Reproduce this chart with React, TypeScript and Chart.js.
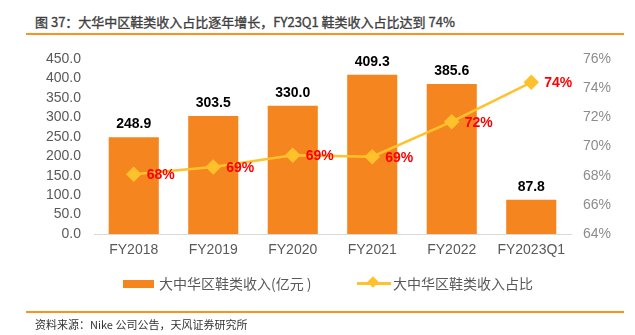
import React, { useEffect, useRef } from "react";
import { Chart, registerables } from "chart.js";

Chart.register(...registerables);

const categories = ["FY2018", "FY2019", "FY2020", "FY2021", "FY2022", "FY2023Q1"];
const revenue = [248.9, 303.5, 330.0, 409.3, 385.6, 87.8];
const shareValues = [68.1, 68.6, 69.4, 69.3, 71.7, 74.4];
const shareLabels = ["68%", "69%", "69%", "69%", "72%", "74%"];

const titleText = "图 37：大华中区鞋类收入占比逐年增长，FY23Q1 鞋类收入占比达到 74%";
const sourceText = "资料来源：Nike 公司公告，天风证券研究所";
const barLegend = "大中华区鞋类收入(亿元 )";
const lineLegend = "大中华区鞋类收入占比";

const BAR_COLOR = "#F5851F";
const LINE_COLOR = "#FFC12C";
const FONT = "'Liberation Sans', Arial, 'Noto Sans CJK SC', sans-serif";
const CJK = "'Noto Sans CJK SC', 'Liberation Sans', sans-serif";

const labelPlugin = {
  id: "valueLabels",
  afterDatasetsDraw(chart: any) {
    const ctx = chart.ctx;
    ctx.save();
    const barMeta = chart.getDatasetMeta(0);
    ctx.font = `bold 14px ${FONT}`;
    ctx.fillStyle = "#000";
    ctx.textAlign = "center";
    ctx.textBaseline = "bottom";
    barMeta.data.forEach((el: any, i: number) => {
      ctx.fillText(revenue[i].toFixed(1), el.x, el.y - 6);
    });
    const lineMeta = chart.getDatasetMeta(1);
    ctx.fillStyle = "#FF0000";
    ctx.textAlign = "left";
    ctx.textBaseline = "middle";
    lineMeta.data.forEach((el: any, i: number) => {
      ctx.fillText(shareLabels[i], el.x + 13, el.y + 1);
    });
    ctx.restore();
  },
};

export default function App() {
  const ref = useRef<HTMLCanvasElement | null>(null);
  useEffect(() => {
    if (!ref.current) return;
    const chart = new Chart(ref.current, {
      type: "bar",
      data: {
        labels: categories,
        datasets: [
          {
            type: "bar",
            label: barLegend,
            data: revenue,
            backgroundColor: BAR_COLOR,
            borderWidth: 0,
            barPercentage: 0.63,
            categoryPercentage: 1,
            yAxisID: "y",
            order: 2,
          },
          {
            type: "line",
            label: lineLegend,
            data: shareValues,
            borderColor: LINE_COLOR,
            backgroundColor: LINE_COLOR,
            borderWidth: 2.5,
            pointStyle: "rectRot",
            pointRadius: 6,
            pointBackgroundColor: LINE_COLOR,
            pointBorderColor: LINE_COLOR,
            tension: 0,
            yAxisID: "y1",
            order: 1,
          } as any,
        ],
      },
      options: {
        animation: false,
        responsive: false,
        maintainAspectRatio: false,
        devicePixelRatio: 1,
        layout: { padding: { top: 59, bottom: 71, left: 0, right: 0 } },
        plugins: { legend: { display: false }, tooltip: { enabled: false } },
        scales: {
          x: {
            grid: { display: false, drawTicks: false },
            border: { display: true, color: "#D9D9D9", width: 1 },
            ticks: { color: "#595959", font: { size: 14, family: FONT }, padding: 8, autoSkip: false, maxRotation: 0 },
            afterFit: (s: any) => { s.height = 30; },
          },
          y: {
            position: "left",
            min: 0,
            max: 450,
            grid: { display: false, drawTicks: false },
            border: { display: false },
            ticks: {
              stepSize: 50,
              autoSkip: false,
              color: "#595959",
              font: { size: 14, family: FONT },
              padding: 13,
              callback: (v: any) => Number(v).toFixed(1),
            },
            afterFit: (s: any) => { s.width = 94; },
          },
          y1: {
            position: "right",
            min: 64,
            max: 76,
            grid: { display: false, drawTicks: false },
            border: { display: false },
            ticks: {
              stepSize: 2,
              autoSkip: false,
              color: "#8C8C8C",
              font: { size: 14, family: FONT },
              padding: 12,
              callback: (v: any) => `${v}%`,
            },
            afterFit: (s: any) => { s.width = 64; },
          },
        },
      } as any,
      plugins: [labelPlugin],
    });
    return () => chart.destroy();
  }, []);

  return (
    <div style={{ position: "fixed", left: 0, top: 0, width: 635, height: 335, background: "#fff", overflow: "hidden" }}>
      <div style={{ position: "absolute", left: 35, top: 13, fontFamily: CJK, fontSize: 13, fontWeight: "normal", color: "#404040", whiteSpace: "nowrap", lineHeight: "18px", WebkitTextStroke: "0.35px #404040" }}>
        {titleText}
      </div>
      <div style={{ position: "absolute", left: 26, top: 33, width: 598, height: 2, background: "#F7941D" }} />
      <canvas ref={ref} width={635} height={335} style={{ position: "absolute", left: 0, top: 0, width: 635, height: 335 }} />
      <div style={{ position: "absolute", left: 123, top: 280, width: 31, height: 8, background: BAR_COLOR }} />
      <div style={{ position: "absolute", left: 159, top: 273, fontFamily: CJK, fontSize: 14, color: "#595959", whiteSpace: "nowrap", lineHeight: "20px" }}>
        {barLegend}
      </div>
      <div style={{ position: "absolute", left: 357, top: 282, width: 34, height: 3, background: LINE_COLOR }} />
      <div style={{ position: "absolute", left: 369, top: 278, width: 8, height: 8, background: LINE_COLOR, transform: "rotate(45deg)" }} />
      <div style={{ position: "absolute", left: 393, top: 273, fontFamily: CJK, fontSize: 14, color: "#595959", whiteSpace: "nowrap", lineHeight: "20px" }}>
        {lineLegend}
      </div>
      <div style={{ position: "absolute", left: 26, top: 311, width: 598, height: 2, background: "#F7941D" }} />
      <div style={{ position: "absolute", left: 35, top: 316, fontFamily: CJK, fontSize: 11, color: "#333", whiteSpace: "nowrap", lineHeight: "16px" }}>
        {sourceText}
      </div>
    </div>
  );
}
